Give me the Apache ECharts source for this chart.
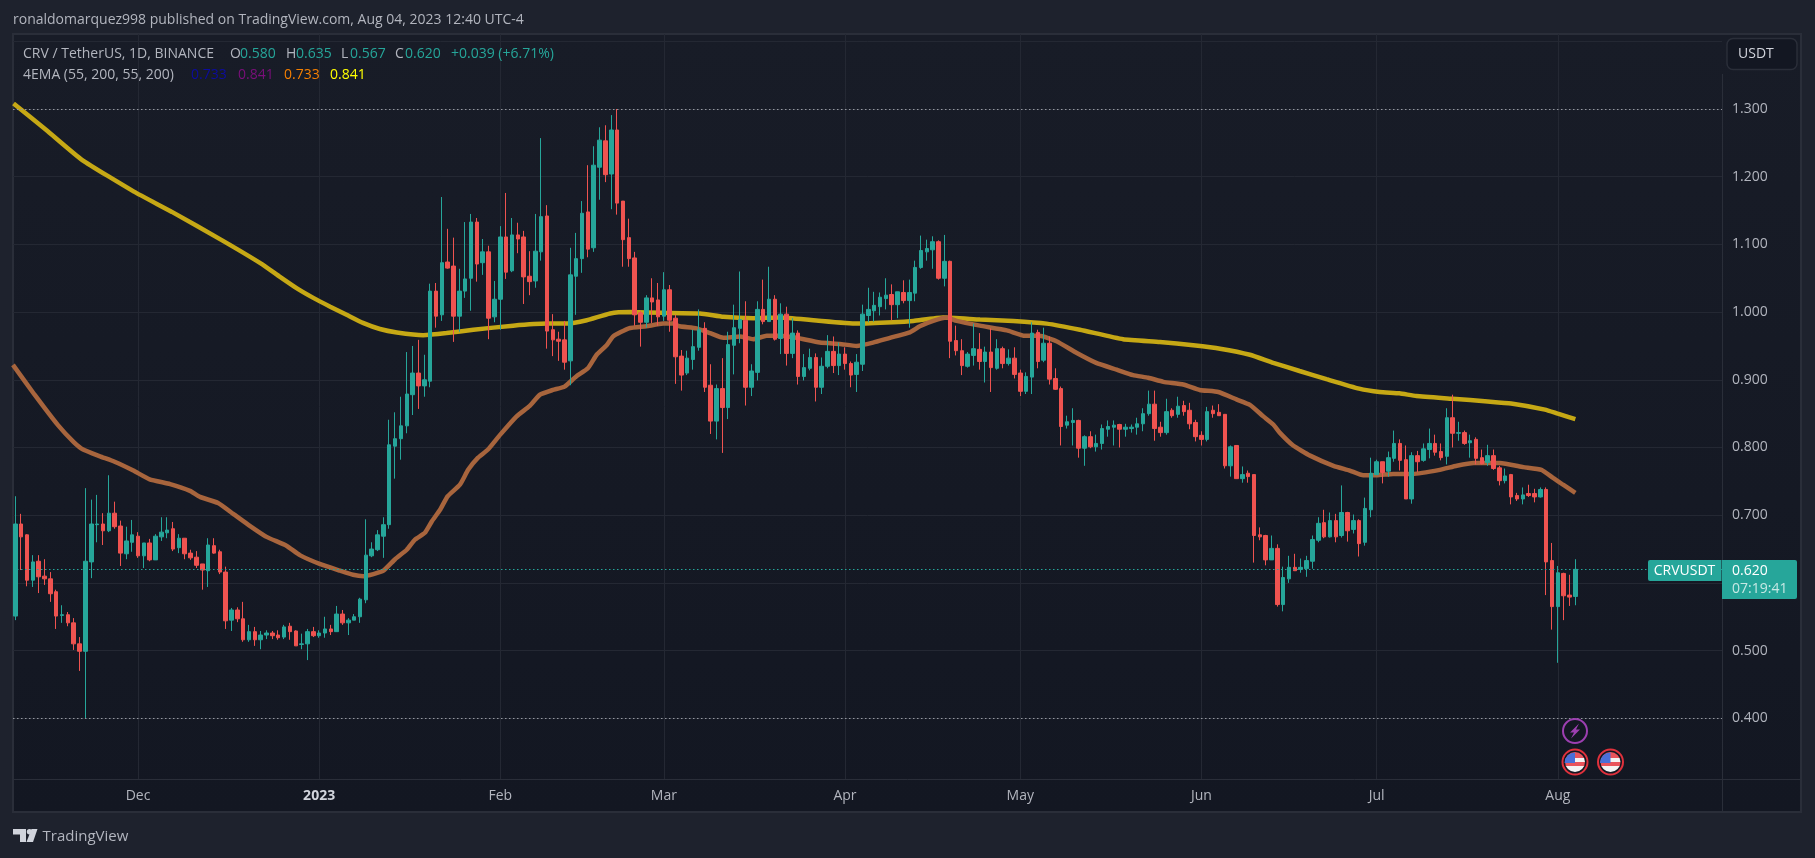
<!DOCTYPE html>
<html>
<head>
<meta charset="utf-8">
<style>html,body{margin:0;padding:0;background:#1e222d;}#c{width:1815px;height:858px;}</style>
<script src="https://cdn.jsdelivr.net/npm/echarts@6/dist/echarts.min.js"></script>
</head>
<body>
<div id="c"></div>
<script>
// Candles are daily, index 0 = 2022-11-10, index 267 = 2023-08-04
const opens = [
0.551,0.687,0.671,0.604,0.632,0.610,0.606,0.587,0.552,0.553,0.541,0.510,0.499,0.631,0.686,0.687,0.677,0.703,0.684,0.643,
0.660,0.669,0.640,0.659,0.634,0.668,0.674,0.680,0.652,0.666,0.644,0.638,0.628,0.618,0.655,0.646,0.616,0.545,0.560,0.547,
0.516,0.528,0.516,0.523,0.526,0.523,0.520,0.536,0.529,0.509,0.510,0.528,0.522,0.526,0.532,0.528,0.554,0.541,0.545,0.550,
0.575,0.640,0.649,0.669,0.686,0.802,0.813,0.832,0.878,0.910,0.891,0.898,1.031,0.996,1.074,1.068,0.994,1.031,1.050,1.133,
1.073,1.089,0.993,1.019,1.111,1.061,1.114,1.111,1.053,1.046,1.089,1.142,0.974,0.960,0.959,0.928,1.053,1.079,1.148,1.095,
1.214,1.253,1.204,1.269,1.164,1.110,1.080,0.999,0.985,1.021,1.018,0.994,1.033,0.991,0.935,0.910,0.930,0.948,0.976,0.892,
0.839,0.887,0.859,0.951,0.976,0.988,0.889,0.911,1.004,0.986,1.019,0.961,0.997,0.939,0.969,0.905,0.917,0.933,0.889,0.920,
0.942,0.921,0.938,0.924,0.908,0.923,0.995,1.002,1.008,1.020,1.026,1.011,1.029,1.017,1.028,1.066,1.089,1.092,1.104,1.050,
1.075,0.958,0.943,0.920,0.936,0.945,0.927,0.941,0.917,0.946,0.924,0.932,0.910,0.883,0.904,0.970,0.929,0.954,0.902,0.887,
0.833,0.837,0.840,0.799,0.816,0.801,0.806,0.827,0.830,0.834,0.827,0.828,0.830,0.835,0.850,0.864,0.830,0.822,0.855,0.849,
0.862,0.855,0.837,0.818,0.812,0.855,0.852,0.849,0.773,0.803,0.754,0.762,0.760,0.671,0.670,0.634,0.651,0.568,0.606,0.623,
0.620,0.621,0.632,0.663,0.689,0.668,0.692,0.670,0.704,0.679,0.692,0.660,0.708,0.760,0.779,0.765,0.784,0.806,0.782,0.724,
0.788,0.781,0.797,0.806,0.794,0.787,0.844,0.821,0.822,0.807,0.812,0.785,0.778,0.788,0.770,0.751,0.760,0.729,0.724,0.732,
0.732,0.727,0.738,0.633,0.565,0.614,0.582,0.580];
const closes = [
0.687,0.668,0.604,0.631,0.609,0.606,0.584,0.551,0.553,0.541,0.510,0.499,0.632,0.687,0.687,0.677,0.703,0.683,0.644,0.662,
0.671,0.640,0.659,0.634,0.669,0.675,0.678,0.650,0.666,0.643,0.637,0.626,0.619,0.656,0.644,0.616,0.544,0.560,0.547,0.516,
0.528,0.516,0.523,0.526,0.522,0.519,0.535,0.528,0.507,0.510,0.528,0.522,0.526,0.532,0.528,0.554,0.541,0.545,0.550,0.576,
0.641,0.650,0.671,0.686,0.804,0.813,0.832,0.879,0.910,0.891,0.900,1.031,0.994,1.073,1.065,0.994,1.031,1.049,1.133,1.071,
1.089,0.991,1.019,1.111,1.059,1.114,1.108,1.052,1.045,1.090,1.141,0.972,0.959,0.957,0.926,1.055,1.079,1.146,1.093,1.217,
1.254,1.203,1.269,1.161,1.107,1.079,0.996,0.985,1.021,1.015,0.993,1.033,0.988,0.934,0.907,0.932,0.949,0.974,0.889,0.839,
0.887,0.859,0.952,0.977,0.989,0.889,0.913,1.004,0.986,1.019,0.960,0.997,0.939,0.969,0.905,0.918,0.933,0.889,0.920,0.942,
0.921,0.938,0.924,0.907,0.926,0.997,1.004,1.010,1.022,1.025,1.011,1.030,1.017,1.029,1.066,1.091,1.094,1.104,1.050,1.075,
0.957,0.943,0.921,0.938,0.946,0.927,0.941,0.918,0.946,0.924,0.932,0.908,0.883,0.905,0.969,0.927,0.954,0.901,0.886,0.831,
0.838,0.840,0.799,0.816,0.801,0.806,0.828,0.831,0.833,0.827,0.830,0.830,0.835,0.850,0.864,0.828,0.822,0.853,0.847,0.861,
0.853,0.835,0.816,0.812,0.853,0.850,0.847,0.773,0.801,0.754,0.760,0.757,0.670,0.668,0.634,0.651,0.568,0.608,0.623,0.618,
0.623,0.633,0.664,0.688,0.668,0.692,0.668,0.704,0.677,0.692,0.658,0.710,0.762,0.779,0.763,0.785,0.806,0.781,0.724,0.788,
0.779,0.798,0.806,0.793,0.785,0.844,0.821,0.822,0.806,0.810,0.784,0.776,0.788,0.769,0.751,0.758,0.727,0.724,0.730,0.729,
0.727,0.738,0.631,0.565,0.615,0.581,0.579,0.620];
const lows = [
0.545,0.619,0.595,0.594,0.585,0.597,0.572,0.532,0.541,0.536,0.501,0.470,0.400,0.607,0.660,0.656,0.675,0.680,0.625,0.635,
0.646,0.637,0.622,0.632,0.634,0.662,0.666,0.647,0.644,0.635,0.634,0.622,0.590,0.594,0.643,0.613,0.532,0.529,0.542,0.513,
0.513,0.507,0.502,0.517,0.517,0.516,0.517,0.516,0.507,0.502,0.486,0.520,0.519,0.519,0.523,0.528,0.538,0.523,0.545,0.541,
0.570,0.638,0.647,0.637,0.680,0.754,0.782,0.821,0.848,0.857,0.875,0.889,0.977,0.987,1.064,0.956,0.971,1.021,1.002,1.045,
1.055,0.960,0.985,0.974,1.049,1.059,1.087,1.012,1.025,1.036,1.076,0.946,0.935,0.928,0.915,0.892,0.996,1.058,1.081,1.089,
1.166,1.192,1.152,1.144,1.067,1.067,0.980,0.949,0.977,0.984,0.980,0.987,0.971,0.894,0.884,0.907,0.915,0.943,0.882,0.820,
0.812,0.792,0.842,0.908,0.954,0.862,0.876,0.899,0.982,0.986,0.958,0.938,0.921,0.932,0.893,0.899,0.914,0.868,0.879,0.917,
0.910,0.907,0.915,0.889,0.882,0.913,0.985,0.986,0.995,1.004,0.988,0.991,1.013,0.977,1.016,1.064,1.076,1.064,1.048,1.038,
0.932,0.936,0.907,0.918,0.921,0.915,0.896,0.882,0.915,0.917,0.921,0.902,0.876,0.879,0.879,0.917,0.926,0.893,0.885,0.803,
0.828,0.803,0.785,0.773,0.799,0.794,0.797,0.816,0.803,0.800,0.816,0.822,0.819,0.824,0.847,0.810,0.816,0.819,0.844,0.844,
0.847,0.827,0.809,0.803,0.809,0.844,0.847,0.769,0.757,0.754,0.748,0.748,0.630,0.663,0.626,0.634,0.565,0.558,0.600,0.618,
0.615,0.609,0.621,0.660,0.666,0.667,0.660,0.667,0.661,0.673,0.639,0.655,0.697,0.759,0.747,0.757,0.779,0.766,0.724,0.717,
0.764,0.779,0.784,0.788,0.781,0.775,0.800,0.810,0.804,0.785,0.775,0.775,0.773,0.767,0.744,0.747,0.716,0.721,0.716,0.727,
0.719,0.726,0.582,0.531,0.482,0.545,0.566,0.567];
const highs = [
0.728,0.702,0.672,0.641,0.641,0.635,0.616,0.590,0.567,0.557,0.548,0.520,0.740,0.723,0.730,0.703,0.759,0.720,0.692,0.683,
0.693,0.675,0.659,0.665,0.672,0.697,0.697,0.690,0.672,0.666,0.649,0.647,0.628,0.666,0.666,0.649,0.624,0.563,0.564,0.572,
0.538,0.535,0.529,0.530,0.529,0.530,0.538,0.541,0.530,0.525,0.532,0.535,0.530,0.550,0.538,0.566,0.560,0.548,0.554,0.578,
0.694,0.660,0.678,0.697,0.841,0.852,0.875,0.941,0.950,0.959,0.937,1.042,1.043,1.170,1.123,1.110,1.064,1.133,1.145,1.139,
1.108,1.098,1.046,1.127,1.176,1.139,1.132,1.120,1.090,1.145,1.257,1.158,0.997,0.971,0.987,1.095,1.117,1.164,1.217,1.245,
1.273,1.276,1.291,1.300,1.164,1.138,1.089,1.002,1.025,1.050,1.043,1.059,1.040,0.996,0.944,0.943,0.974,1.004,0.985,0.923,
0.893,0.932,0.971,1.011,1.060,1.016,0.923,1.016,1.048,1.067,1.025,1.013,1.008,0.991,0.973,0.938,0.946,0.939,0.933,0.966,
0.964,0.955,0.948,0.927,0.938,1.011,1.036,1.030,1.029,1.050,1.041,1.030,1.047,1.048,1.076,1.113,1.107,1.112,1.106,1.114,
1.076,0.980,0.960,0.941,0.983,0.969,0.949,0.976,0.960,0.949,0.945,0.948,0.915,0.911,0.985,0.974,0.977,0.964,0.917,0.890,
0.847,0.858,0.841,0.818,0.824,0.819,0.834,0.840,0.840,0.835,0.835,0.834,0.844,0.858,0.884,0.884,0.838,0.872,0.858,0.875,
0.869,0.866,0.841,0.824,0.860,0.862,0.864,0.849,0.803,0.803,0.772,0.766,0.760,0.682,0.671,0.670,0.657,0.624,0.640,0.643,
0.636,0.640,0.670,0.697,0.708,0.704,0.702,0.744,0.705,0.701,0.694,0.726,0.785,0.782,0.779,0.794,0.825,0.812,0.803,0.793,
0.795,0.806,0.828,0.819,0.806,0.858,0.878,0.838,0.825,0.819,0.815,0.797,0.804,0.797,0.773,0.769,0.761,0.733,0.741,0.745,
0.739,0.741,0.741,0.659,0.625,0.615,0.612,0.635];

const ema55Days = [-0.4,3.3,7.3,10,11.6,14.5,17,20.2,23,26.5,29.9,31.6,34.7,37.3,40.2,43,46.4,48.7,52.1,55.6,57.8,59.6,61.3,63,65,67,68.4,70.1,71.3,72.7,74,76.1,77.5,79.2,80.9,83,85.8,88,89.8,92,94,96,98,99.5,101.2,102.3,105,108,110.9,112.6,113.7,116.6,118.9,121.2,124,126.3,128.6,130.9,133.7,137.7,141.1,144,146.8,149.7,153.1,154.8,157.1,159.4,161.1,165.1,169.7,172.8,175.3,178.2,181.6,185,188.5,191.3,193.9,196.5,199.9,202.7,205.9,209,211.3,213.6,215.3,216.4,218.7,221.6,225.6,228.4,230.7,233,235.8,239.2,243.8,246.7,249.6,254.1,258.1,261.2,263.2,264.9,267];
const ema55Values = [0.922,0.878,0.833,0.808,0.797,0.787,0.779,0.766,0.753,0.746,0.736,0.727,0.718,0.702,0.684,0.668,0.655,0.641,0.628,0.618,0.612,0.610,0.613,0.618,0.635,0.649,0.664,0.674,0.691,0.708,0.728,0.745,0.767,0.785,0.797,0.819,0.846,0.861,0.878,0.885,0.890,0.905,0.917,0.937,0.951,0.964,0.976,0.979,0.983,0.983,0.979,0.976,0.969,0.962,0.964,0.960,0.965,0.965,0.962,0.955,0.953,0.950,0.955,0.962,0.970,0.979,0.987,0.992,0.987,0.980,0.973,0.965,0.965,0.957,0.940,0.925,0.915,0.907,0.903,0.897,0.893,0.885,0.882,0.871,0.863,0.846,0.834,0.822,0.803,0.788,0.773,0.766,0.759,0.759,0.761,0.761,0.767,0.773,0.777,0.777,0.771,0.767,0.755,0.745,0.733];
const ema200Days = [-0.3,5.3,11.4,20.3,26.8,35.4,42,45.3,48.2,51,53.9,56.7,59.5,62.4,65.3,69.8,73.8,78.4,85.2,91,94.4,97.8,101.8,105.2,110.9,117.2,121.2,126.3,130.9,136.6,144,150.3,153.7,158.8,165.1,170.8,176.5,182.2,189.6,195.9,201.6,206.2,211.3,215.3,219.8,224.4,230,233.5,236.9,239.8,246,252,256,261.8,264,267];
const ema200Values = [1.308,1.269,1.225,1.178,1.148,1.106,1.072,1.052,1.035,1.021,1.008,0.996,0.984,0.975,0.970,0.966,0.969,0.974,0.980,0.983,0.983,0.988,0.998,1.000,0.999,0.998,0.993,0.991,0.992,0.988,0.983,0.985,0.987,0.992,0.989,0.987,0.983,0.974,0.960,0.956,0.951,0.946,0.937,0.925,0.913,0.901,0.887,0.882,0.880,0.876,0.872,0.868,0.865,0.856,0.850,0.842];

const monthDays = [21,52,83,111,142,172,203,233,264];
const monthLabels = ['Dec','2023','Feb','Mar','Apr','May','Jun','Jul','Aug'];
const priceLabels = [0.4,0.5,0.6,0.7,0.8,0.9,1.0,1.1,1.2,1.3];
const priceGrid = [0.4,0.5,0.6,0.7,0.8,0.9,1.0,1.1,1.2,1.3,1.4];
const dottedWhite = [1.3,0.4];
const lastClose = 0.62;

const TEXT='#b2b5be', GRID='#242833', EDGE='#2a2e39', UP='#26a69a', DOWN='#ef5350';
const FONT='"Open Sans", Roboto, sans-serif';
const chart = echarts.init(document.getElementById('c'), null, {renderer:'canvas'});

const candles = opens.map((o,i)=>[i,o,closes[i],lows[i],highs[i]]);
const pairs = (d,v)=>d.map((x,i)=>[x,v[i]]);
const txt = (x,y,text,fill,size,extra)=>({type:'text',z:20,silent:true,style:Object.assign({x,y,text,fill,font:(extra&&extra.weight||'normal')+' '+size+'px '+FONT,verticalAlign:'middle',align:(extra&&extra.align)||'left'})});
function flag(cx,cy){
  return [
   {type:'circle',z:20,shape:{cx,cy,r:12.5},style:{fill:'#131722',stroke:'#e0313c',lineWidth:2}},
   {type:'circle',z:21,shape:{cx,cy,r:10},style:{fill:new echarts.graphic.LinearGradient(0,0,0,1,[
      {offset:0,color:'#e9545c'},{offset:.28,color:'#e9545c'},{offset:.28,color:'#f4f4f4'},{offset:.5,color:'#f4f4f4'},
      {offset:.5,color:'#e9545c'},{offset:.72,color:'#e9545c'},{offset:.72,color:'#f4f4f4'},{offset:1,color:'#f4f4f4'}])}},
   {type:'sector',z:22,shape:{cx,cy:cy+1,r:10.5,startAngle:Math.PI,endAngle:1.5*Math.PI},style:{fill:'#4a6fd8'}}
  ];
}
const graphics = [
  {type:'rect',z:-5,shape:{x:13,y:34,width:1788,height:778},style:{fill:new echarts.graphic.LinearGradient(0,0,0,1,[{offset:0,color:'#181c27'},{offset:1,color:'#131722'}]),stroke:EDGE,lineWidth:2}},
  {type:'line',z:5,shape:{x1:13,y1:779.5,x2:1802,y2:779.5},style:{stroke:EDGE,lineWidth:1}},
  {type:'line',z:5,shape:{x1:1722.5,y1:74,x2:1722.5,y2:812},style:{stroke:EDGE,lineWidth:1}},
  txt(13,20,'ronaldomarquez998 published on TradingView.com, Aug 04, 2023 12:40 UTC-4',TEXT,14),
  txt(23,54,'CRV / TetherUS, 1D, BINANCE',TEXT,14),
  txt(230,54,'O',TEXT,14),txt(240,54,'0.580',UP,14),
  txt(286,54,'H',TEXT,14),txt(296,54,'0.635',UP,14),
  txt(341,54,'L',TEXT,14),txt(350,54,'0.567',UP,14),
  txt(395,54,'C',TEXT,14),txt(405,54,'0.620',UP,14),
  txt(451,54,'+0.039 (+6.71%)',UP,14),
  txt(23,75,'4EMA (55, 200, 55, 200)',TEXT,14),
  txt(191,75,'0.733','#0c0c9e',14),txt(238,75,'0.841','#7b0f7b',14),txt(284,75,'0.733','#f57f00',14),txt(330,75,'0.841','#ffff00',14),
  {type:'rect',z:20,shape:{x:1727,y:38.5,width:70,height:31,r:6},style:{fill:'#131722',stroke:EDGE,lineWidth:1.5}},
  txt(1738,54,'USDT','#d1d4dc',14),
  {type:'rect',z:20,shape:{x:1648,y:560,width:73.5,height:21,r:[2,0,0,2]},style:{fill:UP}},
  txt(1684.5,571,'CRVUSDT','#ffffff',14,{align:'center',weight:'500'}),
  {type:'rect',z:20,shape:{x:1722,y:560,width:75,height:39,r:[0,2,2,0]},style:{fill:UP}},
  txt(1732,571,'0.620','#ffffff',14,{weight:'500'}),
  txt(1732,589,'07:19:41','#c6e8e4',14),
  {type:'circle',z:20,shape:{cx:1575,cy:731,r:12},style:{fill:'#131722',stroke:'#9c3fb0',lineWidth:2}},
  {type:'polygon',z:21,shape:{points:[[1579,723.5],[1570,732.5],[1574,732.5],[1571,738.5],[1580,729.5],[1576,729.5]]},style:{fill:'#9c3fb0'}},
  ...flag(1575,762),...flag(1610.5,762),
  {type:'polygon',z:20,shape:{points:[[13,829],[26,829],[26,842],[20,842],[20,834.5],[13,834.5]]},style:{fill:'#d1d4dc'}},
  {type:'circle',z:20,shape:{cx:29.5,cy:831.7,r:2.7},style:{fill:'#d1d4dc'}},
  {type:'polygon',z:20,shape:{points:[[31.5,829],[37.5,829],[33,842],[26.5,842]]},style:{fill:'#d1d4dc'}},
  txt(42.5,837,'TradingView',TEXT,15)
];

chart.setOption({
  animation:false,
  backgroundColor:'#1e222d',
  graphic:{elements:graphics},
  grid:{left:13,top:34,width:1709,height:745.3,show:false},
  xAxis:{type:'value',min:-0.394,max:292.1,
    axisLine:{show:false},
    axisTick:{show:false,customValues:monthDays},
    splitLine:{show:true,lineStyle:{color:GRID,width:1}},
    axisLabel:{customValues:monthDays,margin:10,showMinLabel:true,showMaxLabel:true,color:TEXT,fontFamily:'"Open Sans", Roboto, sans-serif',fontSize:14,
      formatter:v=>{const s=monthLabels[monthDays.indexOf(v)];return s==='2023'?'{b|'+s+'}':s;},
      rich:{b:{fontWeight:'bold',fontSize:14,fontFamily:'"Open Sans", Roboto, sans-serif',color:'#d1d4dc'}}}},
  yAxis:{type:'value',position:'right',min:0.3099,max:1.4108,scale:true,
    axisLine:{show:false},
    axisTick:{show:false,customValues:priceGrid},
    splitLine:{show:true,lineStyle:{color:GRID,width:1}},
    axisLabel:{customValues:priceLabels,margin:10,color:TEXT,fontFamily:'"Open Sans", Roboto, sans-serif',fontSize:14,formatter:v=>v.toFixed(3)}},
  series:[
    {type:'line',name:'EMA 200',data:pairs(ema200Days,ema200Values),showSymbol:false,symbol:'none',smooth:0.15,z:2,lineStyle:{color:'#c6a815',width:4.5},
     markLine:{silent:true,symbol:'none',label:{show:false},animation:false,lineStyle:{color:'#9598a1',type:[1.5,2.5],width:1},data:dottedWhite.map(v=>({yAxis:v}))}},
    {type:'line',name:'EMA 55',data:pairs(ema55Days,ema55Values),showSymbol:false,symbol:'none',smooth:0.15,z:2,lineStyle:{color:'#a8653d',width:4.5},
     markLine:{silent:true,symbol:'none',label:{show:false},animation:false,lineStyle:{color:UP,type:[1.5,2.5],width:1},data:[{yAxis:lastClose}]}},
    {type:'candlestick',name:'CRVUSDT',data:candles,z:4,barWidth:4,clip:true,
     itemStyle:{color:UP,color0:DOWN,borderColor:UP,borderColor0:DOWN,borderColorDoji:UP,borderWidth:1}}
  ]
});
</script>
</body>
</html>
